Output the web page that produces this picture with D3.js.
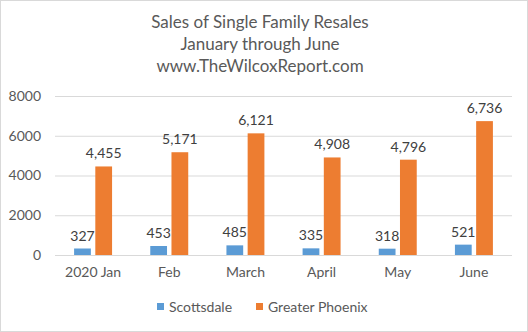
<!DOCTYPE html>
<html>
<head>
  <script src="https://d3js.org/d3.v7.min.js"></script>
  <style>
    body { margin: 0; font-family: Lato, 'Open Sans', sans-serif; background: #fff; }
    .grid line { stroke: #d9d9d9; }
  </style>
</head>
<body>
  <svg id="chart" width="528" height="332"></svg>
  <script>
    const months = ["2020 Jan", "Feb", "March", "April", "May", "June"];
    const scottsdale = [327, 453, 485, 335, 318, 521];
    const phoenix = [4455, 5171, 6121, 4908, 4796, 6736];
    const seriesNames = ["Scottsdale", "Greater Phoenix"];
    const colors = ["#5b9bd5", "#ed7d31"];
    const yTicks = [0, 2000, 4000, 6000, 8000];
    const titleLines = ["Sales of Single Family Resales", "January through June", "www.TheWilcoxReport.com"];

    const svg = d3.select("#chart");
    const W = 528, H = 332;
    const margin = { top: 96, right: 16, bottom: 77, left: 55 };
    const chartW = W - margin.left - margin.right;
    const chartH = H - margin.top - margin.bottom;

    // border
    svg.append("rect")
      .attr("x", 0.5).attr("y", 0.5)
      .attr("width", W - 1).attr("height", H - 1)
      .attr("fill", "#fff").attr("stroke", "#d9d9d9");

    // title
    svg.append("g").selectAll("text")
      .data(titleLines)
      .join("text")
      .attr("x", 260)
      .attr("y", (d, i) => 28 + i * 22)
      .attr("text-anchor", "middle")
      .attr("font-size", "17px")
      .attr("fill", "#595959")
      .text(d => d);

    const g = svg.append("g").attr("transform", `translate(${margin.left},${margin.top})`);

    const x0 = d3.scaleBand().domain(months).range([0, chartW]);
    const x1 = d3.scaleBand().domain(seriesNames).range([0, x0.bandwidth()]).paddingInner(0.21).paddingOuter(0.9);
    const y = d3.scaleLinear().domain([0, 8000]).range([chartH, 0]);

    // gridlines
    g.append("g").attr("class", "grid")
      .call(d3.axisLeft(y).tickValues(yTicks).tickSize(-chartW).tickFormat(""))
      .call(a => a.select(".domain").remove());

    // y labels
    g.append("g")
      .call(d3.axisLeft(y).tickValues(yTicks).tickSize(0).tickPadding(14).tickFormat(d3.format("d")))
      .call(a => a.select(".domain").remove())
      .selectAll("text")
      .attr("font-size", "14px").attr("font-family", "Lato, sans-serif").attr("fill", "#595959");

    // x labels
    g.append("g")
      .attr("transform", `translate(0,${chartH})`)
      .call(d3.axisBottom(x0).tickSize(0).tickPadding(12))
      .call(a => a.select(".domain").remove())
      .selectAll("text")
      .attr("font-size", "14px").attr("font-family", "Lato, sans-serif").attr("fill", "#595959");

    const rows = months.map((m, i) => ({ month: m, values: [scottsdale[i], phoenix[i]] }));
    const fmt = d3.format(",");

    const groups = g.selectAll("g.month")
      .data(rows)
      .join("g").attr("class", "month")
      .attr("transform", d => `translate(${x0(d.month)},0)`);

    groups.selectAll("rect")
      .data(d => d.values.map((v, j) => ({ key: seriesNames[j], v, j })))
      .join("rect")
      .attr("x", d => x1(d.key))
      .attr("width", x1.bandwidth())
      .attr("y", d => y(d.v))
      .attr("height", d => chartH - y(d.v))
      .attr("fill", d => colors[d.j]);

    groups.selectAll("text.lbl")
      .data(d => d.values.map((v, j) => ({ key: seriesNames[j], v, j })))
      .join("text").attr("class", "lbl")
      .attr("x", d => x1(d.key) + x1.bandwidth() / 2)
      .attr("y", d => y(d.v) - 8)
      .attr("text-anchor", "middle")
      .attr("font-size", "14px")
      .attr("fill", "#404040")
      .text(d => fmt(d.v));

    // legend
    const legend = svg.append("g").attr("transform", "translate(0,307)");
    const legX = [157, 256];
    seriesNames.forEach((s, i) => {
      legend.append("rect")
        .attr("x", legX[i]).attr("y", -4)
        .attr("width", 7).attr("height", 7)
        .attr("fill", colors[i]);
      legend.append("text")
        .attr("x", legX[i] + 12).attr("y", 5)
        .attr("font-size", "14px")
        .attr("fill", "#595959")
        .text(s);
    });
  </script>
</body>
</html>
